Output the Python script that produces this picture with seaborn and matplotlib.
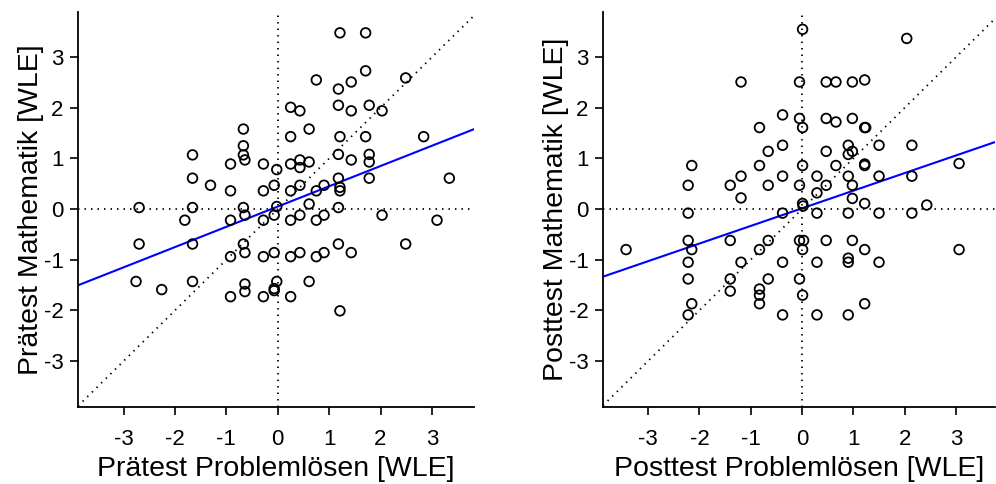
import numpy as np
import pandas as pd
import matplotlib
matplotlib.use("Agg")
import matplotlib.pyplot as plt
import seaborn as sns

# Pretest WLE scores (problem solving vs. mathematics)
pre_problem = [
    -0.67, -1.66, -0.67, -0.67, -0.64, -0.92, -0.28, -0.02, -1.66, -1.31,
    -0.07, -0.92, -0.28, -2.70, -1.66, -0.67, -0.02, 1.21, 1.71, 1.71,
    0.75, 1.43, 1.18, 2.49, 0.25, 0.43, 1.18, 1.43, 1.78, 2.03,
    0.61, 0.25, 1.21, 1.71, 2.84, 1.18, 1.78, 0.43, 0.61, 0.25,
    0.43, 1.43, 1.78, 1.18, 1.78, 3.34, 0.43, 0.90, 1.21, 1.21,
    0.25, 0.75, 0.61, 1.18, -0.64, -0.07, -1.81, -0.92, -0.28, -2.70,
    -1.66, -0.67, -0.64, -0.92, -0.28, -0.07, -2.76, -2.26, -1.66, -0.64,
    -0.64, -0.92, -0.28, -0.02, -0.07, -0.07, 0.25, 0.43, 0.75, 0.90,
    2.03, 3.10, 0.25, 0.43, 0.75, 0.90, 1.18, 1.43, 2.49, 0.61,
    0.25, 1.21,
]
pre_math = [
    1.58, 1.07, 1.25, 1.07, 0.97, 0.89, 0.89, 0.78, 0.61, 0.47,
    0.47, 0.36, 0.36, 0.03, 0.03, 0.03, 0.05, 3.48, 3.48, 2.73,
    2.55, 2.51, 2.37, 2.59, 2.01, 1.94, 2.05, 1.94, 2.05, 1.94,
    1.58, 1.43, 1.43, 1.43, 1.43, 1.08, 1.08, 0.97, 0.93, 0.89,
    0.82, 0.97, 0.93, 0.61, 0.61, 0.61, 0.47, 0.47, 0.43, 0.36,
    0.36, 0.36, 0.10, 0.03, -0.12, -0.12, -0.22, -0.22, -0.22, -0.69,
    -0.69, -0.69, -0.86, -0.94, -0.94, -0.86, -1.43, -1.59, -1.43, -1.48,
    -1.63, -1.73, -1.73, -1.43, -1.57, -1.61, -0.22, -0.12, -0.22, -0.12,
    -0.12, -0.22, -0.94, -0.86, -0.94, -0.86, -0.69, -0.86, -0.69, -1.43,
    -1.73, -2.01,
]

# Posttest WLE scores (problem solving vs. mathematics)
post_problem = [
    0.01, -1.19, -0.05, -0.38, -0.05, 0.01, -0.83, -0.38, -0.66, -0.83,
    -2.15, 0.01, -1.19, -0.38, -2.22, -1.40, -0.66, -0.05, -1.19, 0.01,
    0.02, 2.04, 0.47, 0.66, 0.98, 1.22, 0.47, 0.66, 0.98, 1.22,
    1.24, 0.90, 0.98, 0.90, 1.50, 2.14, 0.47, 0.66, 1.22, 1.22,
    0.29, 0.90, 1.50, 2.14, 3.06, 0.47, 0.98, 0.29, 0.98, 1.22,
    2.43, -2.22, -0.38, -3.43, -2.22, -2.15, -2.22, -2.22, -2.15, -2.22,
    -1.40, -1.19, -1.40, -1.40, -0.83, -0.66, -0.38, -0.66, -0.83, -0.83,
    -0.83, -0.38, -0.05, 0.03, 0.01, -0.05, 0.01, 0.29, 0.90, 1.50,
    2.14, 0.47, 0.98, 1.22, 0.29, 0.90, 0.90, 1.50, 3.06, 1.22,
    0.29, 0.90,
]
post_math = [
    3.55, 2.51, 2.51, 1.86, 1.79, 1.61, 1.61, 1.26, 1.14, 0.86,
    0.86, 0.86, 0.65, 0.65, 0.47, 0.47, 0.47, 0.47, 0.22, 0.11,
    0.06, 3.37, 2.51, 2.51, 2.51, 2.55, 1.79, 1.72, 1.79, 1.61,
    1.61, 1.26, 1.14, 1.08, 1.26, 1.26, 1.14, 0.86, 0.89, 0.86,
    0.65, 0.65, 0.65, 0.65, 0.90, 0.47, 0.47, 0.32, 0.21, 0.11,
    0.08, -0.08, -0.08, -0.80, -0.62, -0.80, -1.05, -1.38, -1.87, -2.09,
    -0.62, -1.05, -1.38, -1.62, -0.80, -0.62, -1.05, -1.38, -1.58, -1.70,
    -1.87, -2.09, -0.62, -0.62, -0.80, -1.38, -1.70, -0.08, -0.08, -0.08,
    -0.08, -0.62, -0.62, -0.80, -1.05, -0.97, -1.05, -1.05, -0.80, -1.87,
    -2.09, -2.09,
]

# Linear fit of mathematics on problem solving (intercept, slope)
pre_fit = [0.05, 0.40]
post_fit = [0.015, 0.348]

tick_values = [-3, -2, -1, 0, 1, 2, 3]

sns.set_style("ticks")
plt.rcParams["font.family"] = ["Liberation Sans", "DejaVu Sans"]

fig = plt.figure(figsize=(9.96, 4.84), dpi=100)
ax_pre = fig.add_axes([0.0783, 0.159, 0.3976, 0.816])
ax_post = fig.add_axes([0.6054, 0.159, 0.3936, 0.816])

panels = [
    (ax_pre, pre_problem, pre_math, pre_fit, "Prätest Problemlösen [WLE]",
     "Prätest Mathematik [WLE]", (-3.89, 3.82)),
    (ax_post, post_problem, post_math, post_fit, "Posttest Problemlösen [WLE]",
     "Posttest Mathematik [WLE]", (-3.88, 3.76)),
]

dot_style = dict(color="black", lw=1.3, ls=(0, (0.8, 2.8)), zorder=1)

for ax, xs, ys, fit, xlabel, ylabel, xlim in panels:
    df = pd.DataFrame({"x": xs, "y": ys})

    # reference lines: zero axes and identity diagonal
    ax.axhline(0, **dot_style)
    ax.axvline(0, **dot_style)
    ax.axline((0, 0), slope=1, **dot_style)

    sns.scatterplot(data=df, x="x", y="y", ax=ax, marker="o", s=48,
                    facecolors="none", edgecolor="black", linewidth=1.3,
                    zorder=3)

    # fitted regression line
    ax.axline((0, fit[0]), slope=fit[1], color="blue", lw=1.5, zorder=2)

    ax.set_xlim(*xlim)
    ax.set_ylim(-3.91, 3.89)
    ax.set_xticks(tick_values)
    ax.set_yticks(tick_values)
    ax.set_xticklabels([str(v) for v in tick_values])
    ax.set_yticklabels([str(v) for v in tick_values])
    ax.tick_params(axis="both", direction="out", length=6, width=1.2,
                   labelsize=16, color="black", labelcolor="black")
    ax.tick_params(axis="x", pad=10)
    ax.tick_params(axis="y", pad=4.5)
    ax.set_xlabel(xlabel, fontsize=20.5, labelpad=4, color="black")
    ax.set_ylabel(ylabel, fontsize=20.5, labelpad=0, color="black")
    for side in ("top", "right"):
        ax.spines[side].set_visible(False)
    for side in ("left", "bottom"):
        ax.spines[side].set_linewidth(1.3)
        ax.spines[side].set_color("black")
    ax.set_facecolor("white")

fig.savefig("out.png", dpi=100, facecolor="white")
